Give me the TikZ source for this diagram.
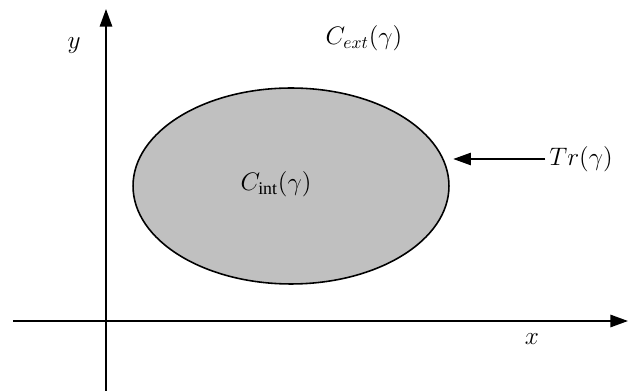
\documentclass[tikz,border=0pt]{standalone}
\usepackage{fontspec}
\setmainfont{Liberation Serif}
\usetikzlibrary{arrows.meta,shapes.geometric}
\definecolor{regiongray}{RGB}{192,192,192}
\begin{document}
\begin{tikzpicture}[x=0.02cm,y=-0.02cm,
  axis/.style={line width=1.1pt,-{Triangle[length=10pt,width=7pt]}},
  lbl/.style={font=\fontsize{14.5}{17}\selectfont, inner sep=0pt}]
\useasboundingbox (0,0) rectangle (629,391);
\coordinate (yb) at (106,391);
\coordinate (yt) at (106,9);
\coordinate (xl) at (13,321);
\coordinate (xr) at (628,321);
\draw[axis] (yb) -- (yt);
\draw[axis] (xl) -- (xr);
\node[ellipse,draw,fill=regiongray,line width=0.9pt,minimum width=6.32cm,minimum height=3.92cm,inner sep=0pt] (e) at (291,186) {};
\node[lbl] (cint) at (276,184) {$C_{\mathrm{int}}(\gamma)$};
\node[lbl] (cext) at (364,38) {$C_{ext}(\gamma)$};
\node[lbl,anchor=west] (tr) at (549,159) {$Tr(\gamma)$};
\node[lbl] (ylab) at (74,46) {$y$};
\node[lbl] (xlab) at (532,339) {$x$};
\draw[line width=0.9pt,-{Triangle[length=10pt,width=7pt]},shorten <=2pt,shorten >=2pt] (tr.west) -- (e.east |- tr.west);
\end{tikzpicture}
\end{document}
